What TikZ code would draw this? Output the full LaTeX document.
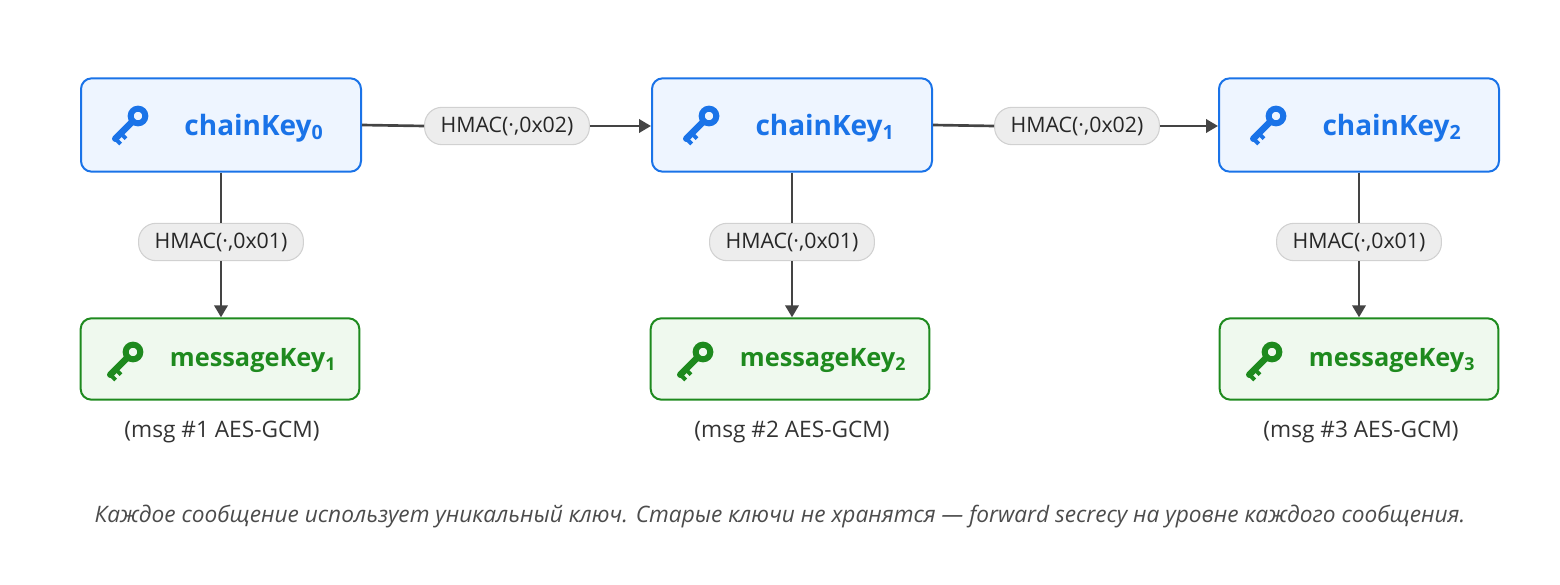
\documentclass[tikz,border=0pt]{standalone}
\usepackage{fontspec}
\setmainfont{Open Sans}
\usetikzlibrary{arrows.meta}
\definecolor{cblue}{HTML}{1A73E8}
\definecolor{cbluefill}{HTML}{EEF5FF}
\definecolor{cgreen}{HTML}{1E8A1E}
\definecolor{cgreenfill}{HTML}{EFF9EE}
\definecolor{cline}{HTML}{444444}
\tikzset{
  chainbox/.style={draw=cblue,line width=1.5pt,fill=cbluefill,rounded corners=8pt,minimum width=210pt,minimum height=70pt},
  msgbox/.style={draw=cgreen,line width=1.5pt,fill=cgreenfill,rounded corners=8pt,minimum width=209pt,minimum height=61pt},
  pill/.style={draw=black!18,line width=0.8pt,fill=black!7,rounded corners=13pt,minimum height=28pt,inner xsep=12pt,font=\fontsize{16}{18}\selectfont,text=black!85},
  conn/.style={draw=cline,line width=2pt},
  arr/.style={conn,-{Triangle[length=9pt,width=10pt]}},
  keyicon/.pic={
    \draw[line width=4.5pt,pic actions] (0,0) circle (5.5pt);
    \draw[line width=5pt,pic actions,line cap=round] (-4pt,-4pt) -- (-17pt,-17pt);
    \draw[line width=3pt,pic actions] (-13pt,-13pt) -- (-9pt,-17pt) (-17pt,-17pt) -- (-13pt,-21pt);
  }
}
\begin{document}
\begin{tikzpicture}[x=0.75pt,y=-0.75pt]
\useasboundingbox (0,0) rectangle (1560,585);
\foreach \i/\cx/\mx/\lab in {0/221/220/1,1/792/790/2,2/1359/1359/3}{
  \node[chainbox] (c\i) at (\cx,125) {};
  \node[msgbox] (m\i) at (\mx,359) {};
  \pic[cblue] at (\cx-83,116) {keyicon};
  \pic[cgreen] at (\mx-87,352) {keyicon};
  \node[text=cblue,font=\fontsize{21}{24}\selectfont\bfseries] at (\cx+33,128) {chainKey\textsubscript{\i}};
  \node[text=cgreen,font=\fontsize{19}{22}\selectfont\bfseries] at (\mx+33,360) {messageKey\textsubscript{\lab}};
  \node[font=\fontsize{17}{20}\selectfont,text=black!80] (t\i) at (\mx+2,432) {(msg \#\lab{} AES-GCM)};
  \node[pill] (p\i) at (\cx,242) {HMAC(·,0x01)};
  \draw[conn] (c\i.south) -- (p\i.north);
  \draw[arr] (p\i.south) -- (p\i.south |- m\i.north);
}
\node[pill] (h0) at (507,126) {HMAC(·,0x02)};
\node[pill] (h1) at (1077,126) {HMAC(·,0x02)};
\draw[conn] (c0.east) -- (h0.west);
\draw[arr] (h0.east) -- (c1.west |- h0.east);
\draw[conn] (c1.east) -- (h1.west);
\draw[arr] (h1.east) -- (c2.west |- h1.east);
\node[font=\fontsize{17}{19}\selectfont\itshape,text=black!70] (cap) at (780,516) {Каждое сообщение использует уникальный ключ. Старые ключи не хранятся — forward secrecy на уровне каждого сообщения.};
\end{tikzpicture}
\end{document}
